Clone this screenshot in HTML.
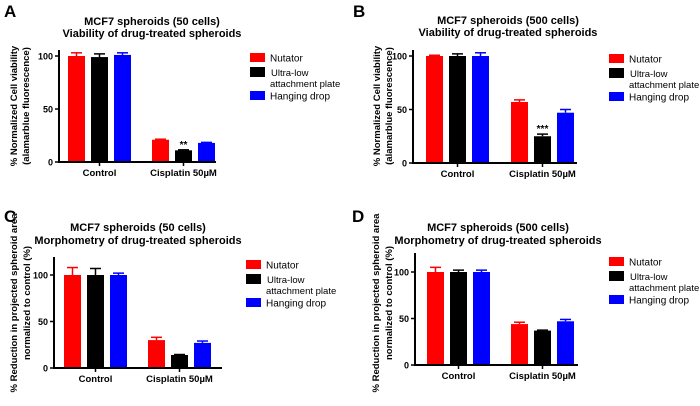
<!DOCTYPE html>
<html><head><meta charset="utf-8"><style>
body{margin:0;background:#fff;}
svg text{font-family:"Liberation Sans",Arial,sans-serif;}
</style></head><body>
<svg id="fig" width="700" height="401" viewBox="0 0 700 401" xmlns="http://www.w3.org/2000/svg"></svg>
<script>
const categories = ["Control", "Cisplatin 50µM"];
const seriesNames = ["Nutator", "Ultra-low attachment plate", "Hanging drop"];
const colors = ["#ff0000", "#000000", "#0000ff"];
const yTicks = [0, 50, 100];
const valuesA = [[100, 99, 101], [21, 11, 18]];
const errorsA = [[3, 3, 2], [0.5, 0.5, 0.5]];
const valuesB = [[100, 100, 100], [57, 25, 47]];
const errorsB = [[0.7, 2, 3], [2, 2, 3]];
const valuesC = [[100, 100, 100], [30, 14, 27]];
const errorsC = [[8, 7, 2], [3, 0.5, 2]];
const valuesD = [[100, 100, 100], [44, 37, 47]];
const errorsD = [[5, 2, 2], [2, 0.5, 2]];
const starsA = [["", "", ""], ["", "**", ""]];
const starsB = [["", "", ""], ["", "***", ""]];

const NS = "http://www.w3.org/2000/svg";
const svg = document.getElementById("fig");
function mk(tag, attrs, parent, text) {
  const e = document.createElementNS(NS, tag);
  for (const k in attrs) e.setAttribute(k, attrs[k]);
  if (text !== undefined) e.textContent = text;
  (parent || svg).appendChild(e);
  return e;
}

const panels = [
  {id:"a", letter:"A", lx:4, ly:17, ax:59, y0:162, y100:56, ytop:50, g0:68, g1:152, xend:216,
   tc:152, t1:25, t2:37, title1:"MCF7 spheroids (50 cells)", title2:"Viability of drug-treated spheroids",
   yl:["% Normalized Cell viability","(alamarblue fluorescence)"], ylx:[17,29], ylc:106,
   legx:250, legy:53, vals:valuesA, errs:errorsA, stars:starsA},
  {id:"b", letter:"B", lx:353, ly:17, ax:413, y0:163, y100:56, ytop:50, g0:426, g1:511, xend:577,
   tc:508, t1:24, t2:36, title1:"MCF7 spheroids (500 cells)", title2:"Viability of drug-treated spheroids",
   yl:["% Normalized Cell viability","(alamarblue fluorescence)"], ylx:[380,392], ylc:106,
   legx:609, legy:54, vals:valuesB, errs:errorsB, stars:starsB},
  {id:"c", letter:"C", lx:4, ly:222, ax:54, y0:368, y100:275, ytop:257, g0:64, g1:148, xend:222,
   tc:138, t1:231, t2:244, title1:"MCF7 spheroids (50 cells)", title2:"Morphometry of drug-treated spheroids",
   yl:["% Reduction in projected spheroid area","normalized to control (%)"], ylx:[17,30], ylc:303,
   legx:246, legy:260, vals:valuesC, errs:errorsC, stars:null},
  {id:"d", letter:"D", lx:352, ly:222, ax:415, y0:365, y100:272, ytop:253, g0:427, g1:511, xend:578,
   tc:498, t1:231, t2:244, title1:"MCF7 spheroids (500 cells)", title2:"Morphometry of drug-treated spheroids",
   yl:["% Reduction in projected spheroid area","normalized to control (%)"], ylx:[379,392], ylc:303,
   legx:609, legy:257, vals:valuesD, errs:errorsD, stars:null}
];

panels.forEach(p => {
  const g = mk("g", {});
  
  
  const y = v => p.y0 - (p.y0 - p.y100) * v / 100;
  const L = mk("text", {x:p.lx, y:p.ly, "font-size":17, "font-weight":"bold"}, g, p.letter);
  
  
  [p.title1, p.title2].forEach((t, i) => {
    const e = mk("text", {x:p.tc, y:i ? p.t2 : p.t1, "font-size":11, "font-weight":"bold", "text-anchor":"middle"}, g, t);
    
    
  });
  p.yl.forEach((t, i) => {
    const e = mk("text", {x:p.ylx[i], y:p.ylc, "font-size":9.5, "font-weight":"bold", "text-anchor":"middle",
      transform:`rotate(-90 ${p.ylx[i]} ${p.ylc})`}, g, t);
    
    
  });
  const bw = 17, step = 23;
  categories.forEach((c, ci) => {
    const gx = ci ? p.g1 : p.g0;
    seriesNames.forEach((s, si) => {
      const v = p.vals[ci][si], er = p.errs[ci][si];
      const x = gx + si * step;
      const eb = mk("line", {x1:x + bw/2, x2:x + bw/2, y1:y(v), y2:y(v + er), stroke:colors[si], "stroke-width":1.5}, g);
      
      
      const cap = mk("line", {x1:x + 3, x2:x + bw - 3, y1:y(v + er), y2:y(v + er), stroke:colors[si], "stroke-width":1.5}, g);
      
      
      const r = mk("rect", {x:x, y:y(v), width:bw, height:p.y0 - y(v), fill:colors[si]}, g);
      
      
      if (p.stars && p.stars[ci][si]) {
        const st = mk("text", {x:x + bw/2, y:y(v + er) - 2, "font-size":10, "font-weight":"bold", "text-anchor":"middle"}, g, p.stars[ci][si]);
        
        
      }
    });
    const cx = gx + step + bw/2;
    const tk = mk("line", {x1:cx, x2:cx, y1:p.y0, y2:p.y0 + 4, stroke:"#000", "stroke-width":1.5}, g);
    
    
    const tl = mk("text", {x:cx, y:p.y0 + 14, "font-size":9.5, "font-weight":"bold", "text-anchor":"middle"}, g, c);
    
    
  });
  const ya = mk("line", {x1:p.ax, x2:p.ax, y1:p.ytop, y2:p.y0 + 1, stroke:"#000", "stroke-width":2}, g);
  
  
  const xa = mk("line", {x1:p.ax - 1, x2:p.xend, y1:p.y0, y2:p.y0, stroke:"#000", "stroke-width":2}, g);
  
  
  yTicks.forEach(t => {
    const tk = mk("line", {x1:p.ax - 4, x2:p.ax, y1:y(t), y2:y(t), stroke:"#000", "stroke-width":1.5}, g);
    
    
    const tl = mk("text", {x:p.ax - 6, y:y(t) + 3.5, "font-size":9, "font-weight":"bold", "text-anchor":"end"}, g, String(t));
    
    
  });
  const legOff = [0, 14, 38];
  const legH = [9, 10, 9];
  seriesNames.forEach((s, si) => {
    const ly = p.legy + legOff[si];
    const sw = mk("rect", {x:p.legx, y:ly, width:15, height:legH[si], fill:colors[si]}, g);
    
    
    if (si === 1) {
      const t1 = mk("text", {x:p.legx + 21, y:ly + 9, "font-size":9.5}, g, "Ultra-low");
      
      
      const t2 = mk("text", {x:p.legx + 20, y:ly + 20, "font-size":9.5}, g, "attachment plate");
      
      
    } else {
      const t = mk("text", {x:p.legx + 20, y:ly + 8.5, "font-size":10}, g, s);
      
      
    }
  });
});
</script>
</body></html>
